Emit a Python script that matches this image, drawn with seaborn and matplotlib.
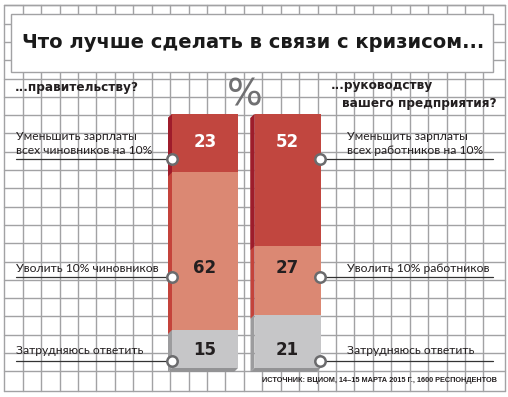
import matplotlib
matplotlib.use("Agg")
import matplotlib.pyplot as plt
import seaborn as sns
import pandas as pd
import numpy as np
from matplotlib.patches import Polygon, Rectangle

# Data
groups = ["правительству", "руководству"]
answers = ["Уменьшить зарплаты", "Уволить 10%", "Затрудняюсь ответить"]
gov_values = [23, 62, 15]
company_values = [52, 27, 21]
left_labels = ["Уменьшить зарплаты\nвсех чиновников на 10%", "Уволить 10% чиновников", "Затрудняюсь ответить"]
right_labels = ["Уменьшить зарплаты\nвсех работников на 10%", "Уволить 10% работников", "Затрудняюсь ответить"]

face_colors = ["#c1463f", "#db8873", "#c6c6c8"]
side_colors = ["#9e1c2b", "#c4433b", "#9c9c9e"]
text_colors = ["white", "#231f20", "#231f20"]

sns.set_theme(style="white")
plt.rcParams["font.family"] = ["Lato", "DejaVu Sans"]

W, H = 508, 397
fig = plt.figure(figsize=(W / 100, H / 100), dpi=100)

# background in pixel coordinates
bg = fig.add_axes([0, 0, 1, 1])
bg.set_xlim(0, W)
bg.set_ylim(H, 0)
bg.axis("off")

grid_c = "#a2a2a4"
for k in range(27):
    x = 4.3 + 18.43 * k
    bg.plot([x, x], [4.5, 390.7], color=grid_c, lw=1)
for k in range(21):
    y = 5.3 + 18.3 * k
    bg.plot([4.3, 504.7], [y, y], color=grid_c, lw=1)
bg.plot([504.7, 504.7], [4.5, 390.7], color=grid_c, lw=1)
bg.plot([4.3, 504.7], [390.7, 390.7], color=grid_c, lw=1)
bg.plot([4.3, 504.7], [4.5, 4.5], color=grid_c, lw=1)

bg.add_patch(Rectangle((11, 14), 482, 58, facecolor="white", edgecolor=grid_c, lw=1, zorder=3))
bg.text(22, 42, "Что лучше сделать в связи с кризисом...", fontsize=14, fontweight="heavy",
        color="#1a1a1a", va="center", ha="left", zorder=4, family=["DejaVu Sans"])

hdr = dict(fontsize=8.7, fontweight="bold", color="#231f20", va="center", family=["DejaVu Sans"])
bg.text(15, 87, "...правительству?", **hdr)
bg.text(331, 86, "...руководству", **hdr)
bg.text(342, 103, "вашего предприятия?", **hdr)
bg.text(245, 95, "%", fontsize=27, color="#707072", va="center", ha="center",
        family=["DejaVu Sans"])

# bars
bar_top, bar_bottom = 114, 368
px_per_val = (bar_bottom - bar_top) / 100.0
x_left_px, x_right_px = 163.75, 328.75
ax = fig.add_axes([x_left_px / W, (H - bar_bottom) / H, (x_right_px - x_left_px) / W,
                   (bar_bottom - bar_top) / H])
ax.patch.set_alpha(0)

values = np.array([gov_values, company_values])
cum = np.cumsum(values, axis=1)
for i in [2, 1, 0]:
    df = pd.DataFrame({"group": groups, "value": cum[:, i]})
    n_before = len(ax.patches)
    sns.barplot(data=df, x="group", y="value", color=face_colors[i], saturation=1,
                width=0.8, linewidth=0, ax=ax)
    dx = 4 / 82.5
    dy = 4 / px_per_val
    for p in ax.patches[n_before:]:
        x0 = p.get_x()
        x1 = x0 + p.get_width()
        top = 0
        bot = p.get_y() + p.get_height()
        ax.add_patch(Polygon([(x0, top), (x0 - dx, top + dy), (x0 - dx, bot + dy), (x0, bot)],
                             closed=True, facecolor=side_colors[i], lw=0, clip_on=False))
        if i == 2:
            ax.add_patch(Polygon([(x0, bot), (x0 - dx, bot + dy), (x1 - dx, bot + dy), (x1, bot)],
                                 closed=True, facecolor="#939395", lw=0, clip_on=False))

ax.set_xlim(-0.5, 1.5)
ax.set_ylim(100, 0)
ax.axis("off")

label_px = [142, 268, 350]
for g, vals in enumerate(values):
    for i, v in enumerate(vals):
        ax.text(g, (label_px[i] - bar_top) / px_per_val, str(v), ha="center", va="center",
                fontsize=12, fontweight="bold", color=text_colors[i], family=["DejaVu Sans"])

# leader lines, dots and answer labels
ov = fig.add_axes([0, 0, 1, 1])
ov.patch.set_alpha(0)
ov.set_xlim(0, W)
ov.set_ylim(H, 0)
ov.axis("off")

line_y = [159, 277, 361]
text_y = [[136, 151], [268], [350]]
for i in range(3):
    ov.plot([16, 172], [line_y[i], line_y[i]], color="#333333", lw=0.9)
    ov.plot([320, 493], [line_y[i], line_y[i]], color="#333333", lw=0.9)
    for x in (172, 320):
        ov.plot(x, line_y[i], "o", ms=7.5, mfc="white", mec="#6b6b6d", mew=1.8)
    for j, (lt, rt) in enumerate(zip(left_labels[i].split("\n"), right_labels[i].split("\n"))):
        ov.text(16, text_y[i][j], lt, fontsize=8.7, color="#231f20", va="center", ha="left")
        ov.text(347, text_y[i][j], rt, fontsize=8.7, color="#231f20", va="center", ha="left")

ov.text(497, 381, "ИСТОЧНИК: ВЦИОМ, 14–15 МАРТА 2015 Г., 1600 РЕСПОНДЕНТОВ", fontsize=5.35,
        fontweight="bold", color="#231f20", ha="right", va="center",
        family=["Liberation Sans", "DejaVu Sans"])

fig.savefig("out.png", dpi=100, facecolor="white")
